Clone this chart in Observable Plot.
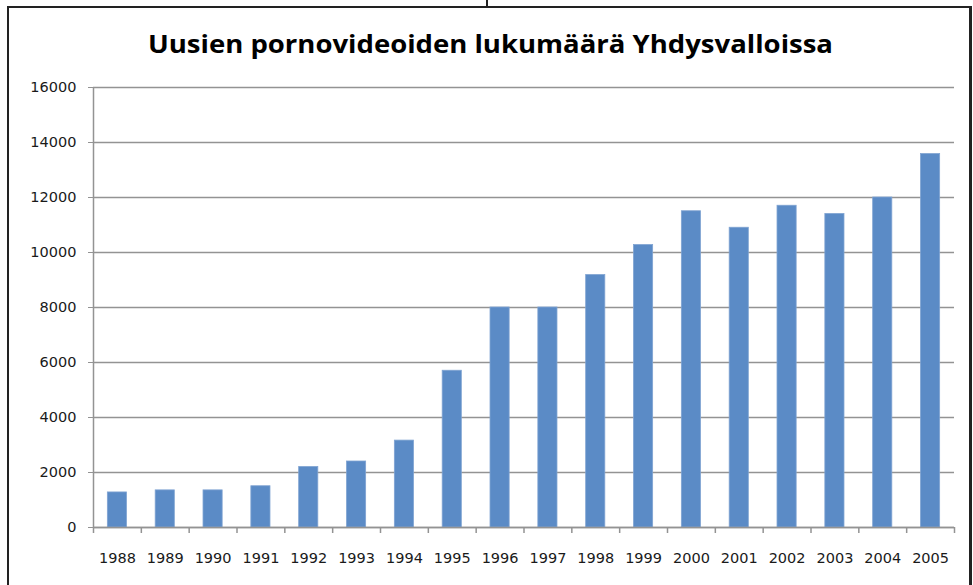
<!DOCTYPE html>
<html><head><meta charset="utf-8">
<script src="https://cdn.jsdelivr.net/npm/d3@7"></script>
<script src="https://cdn.jsdelivr.net/npm/@observablehq/plot@0.6"></script>
<style>
html,body{margin:0;padding:0;background:#fff;}
#page{position:relative;width:973px;height:585px;overflow:hidden;background:#fff;}
.frame{position:absolute;background:#222;}
#title{position:absolute;left:0;top:0;width:973px;height:70px;}
#title span{position:absolute;left:490px;top:28px;white-space:nowrap;font-family:"Open Sans",sans-serif;font-weight:700;font-size:25px;line-height:30px;color:#000;transform-origin:0 0;}
#chart{position:absolute;left:0;top:70px;}
</style></head><body>
<div id="page">
  <div id="title"><span id="tt">Uusien pornovideoiden lukumäärä Yhdysvalloissa</span></div>
  <div id="chart"></div>
  <div class="frame" style="left:7px;top:6px;width:2px;height:579px"></div>
  <div class="frame" style="left:7px;top:6px;width:964px;height:2px"></div>
  <div class="frame" style="left:969px;top:6px;width:3px;height:579px"></div>
  <div class="frame" style="left:486px;top:0px;width:2px;height:7px"></div>
</div>
<script>
const years = ["1988","1989","1990","1991","1992","1993","1994","1995","1996","1997","1998","1999","2000","2001","2002","2003","2004","2005"];
const counts = [1275,1350,1350,1500,2200,2400,3160,5700,8000,8000,9180,10270,11500,10900,11700,11400,12000,13580];
const yTicks = [0,2000,4000,6000,8000,10000,12000,14000,16000];

const data = years.map((y, i) => ({year: y, count: counts[i]}));

const W = 973, H = 515, mL = 93, mR = 19, mT = 17, mB = 58;
const step = (W - mL - mR) / years.length;
const gray = "#939393";

const chart = Plot.plot({
  width: W, height: H,
  marginLeft: mL, marginRight: mR, marginTop: mT, marginBottom: mB,
  style: {fontFamily: "DejaVu Sans", fontSize: "14.5px", color: "#1a1a1a", background: "#fff"},
  x: {type: "band", domain: years, paddingInner: 0.6, paddingOuter: 0.3, round: false, label: null},
  y: {domain: [0, 16000], label: null},
  marks: [
    Plot.gridY(yTicks, {stroke: gray, strokeOpacity: 1, strokeWidth: 1.5}),
    Plot.barY(data, {x: "year", y: "count", fill: "#5b8bc6", stroke: "#7fa3d2", strokeWidth: 0.8}),
    Plot.ruleY([0], {stroke: gray, strokeWidth: 1.5}),
    Plot.ruleX([years[0]], {x: d => d, y1: 0, y2: 16000, dx: -step / 2, stroke: gray, strokeWidth: 1.5}),
    Plot.ruleX(years, {x: d => d, y1: 0, y2: 0, insetBottom: -6, dx: -step / 2, stroke: gray, strokeWidth: 1.5}),
    Plot.ruleX([years[years.length - 1]], {x: d => d, y1: 0, y2: 0, insetBottom: -6, dx: step / 2, stroke: gray, strokeWidth: 1.5}),
    Plot.axisY(yTicks, {tickSize: 5, tickPadding: 12, tickFormat: d3.format("d"), stroke: gray, label: null}),
    Plot.axisX({tickSize: 0, tickPadding: 25, label: null})
  ]
});
document.getElementById("chart").appendChild(chart);

// fit title width to the reference (about 685px, centred)
const tt = document.getElementById("tt");
const w = tt.getBoundingClientRect().width;
const s = 685 / w;
tt.style.transform = `scaleX(${s})`;
tt.style.left = (490.5 - 685 / 2) + "px";
</script>
</body></html>
